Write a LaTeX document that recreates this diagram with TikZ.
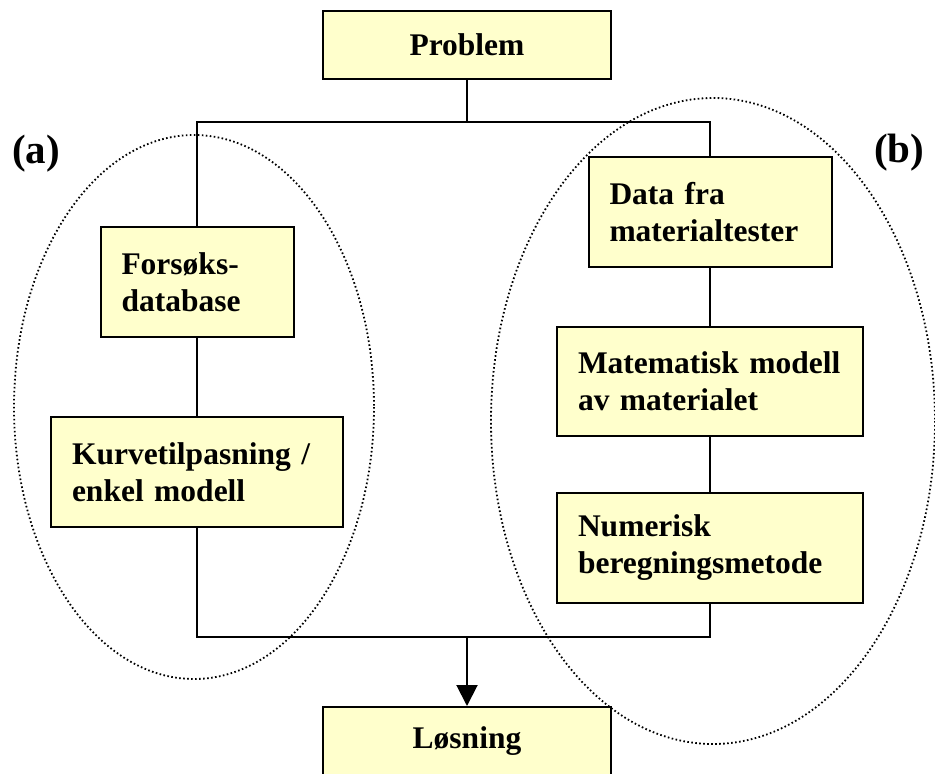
\documentclass[tikz,border=0pt]{standalone}
\usepackage{fontspec}
\setmainfont{Liberation Serif}
\usetikzlibrary{arrows.meta}
\definecolor{boxfill}{HTML}{FFFFCC}
\tikzset{
  boxnode/.style={draw, line width=2pt, fill=boxfill, font=\fontsize{31.5}{37}\selectfont\bfseries,
    align=left, inner xsep=21pt, inner ysep=0pt, minimum height=110pt},
  titlenode/.style={draw, line width=2pt, fill=boxfill, font=\fontsize{31.5}{37}\selectfont\bfseries,
    align=center, minimum width=288pt, minimum height=68pt, inner sep=0pt},
  conn/.style={line width=2pt},
  groupell/.style={draw, line width=1.8pt, dash pattern=on 1.6pt off 2.4pt},
  grouplabel/.style={font=\fontsize{41}{44}\selectfont\bfseries, anchor=base west, inner sep=0pt}
}
\begin{document}
\begin{tikzpicture}[x=1pt,y=-1pt]
\useasboundingbox (0,0) rectangle (935,774);
\clip (0,0) rectangle (935,774);
% group ellipses
\draw[groupell] (194,407) ellipse [x radius=180, y radius=272];
\draw[groupell] (713,421) ellipse [x radius=222, y radius=323];
% labels
\node[grouplabel] (la) at (12,163) {(a)};
\node[grouplabel] (lb) at (874,162) {(b)};
% boxes
\node[titlenode] (prob) at (467,45) {Problem};
\node[titlenode] (los) at (467,741) {Løsning};
\node[boxnode, text width=151pt] (fors) at (197,282) {Forsøks-\\database};
\node[boxnode, text width=250pt] (kurv) at (197,472) {Kurvetilpasning /\\enkel modell};
\node[boxnode, text width=201pt] (data) at (710,212) {Data fra\\materialtester};
\node[boxnode, text width=264pt, minimum height=109pt] (mat) at (710,381.5) {Matematisk modell\\av materialet};
\node[boxnode, text width=264pt] (num) at (710,548) {Numerisk\\beregningsmetode};
% junction coordinates
\coordinate (tm) at (467,122);
\coordinate (tl) at (197,122);
\coordinate (tr) at (710,122);
\coordinate (bl) at (197,637);
\coordinate (br) at (710,637);
\coordinate (bm) at (467,637);
% connectors
\draw[conn] (prob.south) -- (tm);
\draw[conn, line cap=rect] (tl) -- (tr);
\draw[conn] (tl) -- (fors.north);
\draw[conn] (tr) -- (data.north);
\draw[conn] (fors.south) -- (kurv.north);
\draw[conn] (data.south) -- (mat.north);
\draw[conn] (mat.south) -- (num.north);
\draw[conn] (kurv.south) -- (bl);
\draw[conn] (num.south) -- (br);
\draw[conn, line cap=rect] (bl) -- (br);
\draw[conn, -{Triangle[width=21pt,length=21pt]}] (bm) -- (los.north);
\end{tikzpicture}
\end{document}
